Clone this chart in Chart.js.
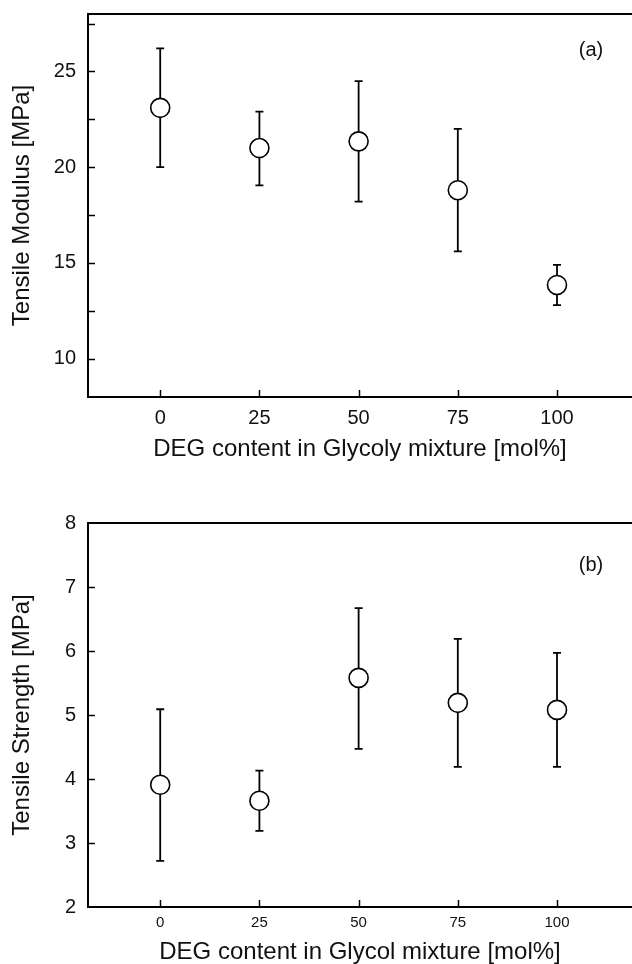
<!DOCTYPE html>
<html lang="en">
<head>
<meta charset="UTF-8">
<title>Tensile Modulus and Strength vs DEG content</title>
<script src="https://cdn.jsdelivr.net/npm/chart.js"></script>
<style>
  body { margin: 0; background: #fff; }
  #wrap { position: relative; width: 632px; height: 964px; overflow: hidden; }
  canvas { position: absolute; left: 0; }
  #modulusChart { top: 0; }
  #strengthChart { top: 500px; }
</style>
</head>
<body>
<div id="wrap">
  <canvas id="modulusChart" width="632" height="470"></canvas>
  <canvas id="strengthChart" width="632" height="480"></canvas>
</div>
<script>
// data
const degContent = [0, 25, 50, 75, 100];

const modulusMean = [23.1, 21.0, 21.35, 18.8, 13.85];
const modulusHigh = [26.2, 22.9, 24.5, 22.0, 14.9];
const modulusLow  = [20.0, 19.05, 18.2, 15.6, 12.8];

const strengthMean = [3.91, 3.66, 5.58, 5.19, 5.08];
const strengthHigh = [5.09, 4.13, 6.67, 6.19, 5.97];
const strengthLow  = [2.72, 3.19, 4.47, 4.19, 4.19];

const xTicks = [0, 25, 50, 75, 100];
const modulusTicks = [10, 15, 20, 25];
const modulusMinorTicks = [10, 12.5, 15, 17.5, 20, 22.5, 25, 27.5];
const strengthTicks = [2, 3, 4, 5, 6, 7, 8];

const FONT = "'Liberation Sans', Arial, Helvetica, sans-serif";

// error bars behind the circles, inward tick marks and the top frame line
const framePlugin = {
  id: 'frame',
  beforeDatasetsDraw(chart, args, opts) {
    const { ctx } = chart;
    const x = chart.scales.x, y = chart.scales.y;
    ctx.save();
    ctx.strokeStyle = '#000';
    ctx.lineWidth = 1.8;
    opts.low.forEach((lo, i) => {
      const px = x.getPixelForValue(degContent[i]);
      const pTop = y.getPixelForValue(opts.high[i]);
      const pBot = y.getPixelForValue(lo);
      ctx.beginPath();
      ctx.moveTo(px, pTop); ctx.lineTo(px, pBot);
      ctx.moveTo(px - 4, pTop); ctx.lineTo(px + 4, pTop);
      ctx.moveTo(px - 4, pBot); ctx.lineTo(px + 4, pBot);
      ctx.stroke();
    });
    ctx.restore();
  },
  afterDraw(chart, args, opts) {
    const { ctx, chartArea } = chart;
    const x = chart.scales.x, y = chart.scales.y;
    ctx.save();
    ctx.strokeStyle = '#000';
    // top frame (figure is cropped on the right, so no right edge)
    ctx.lineWidth = 2;
    ctx.beginPath();
    ctx.moveTo(chartArea.left - 1, chartArea.top);
    ctx.lineTo(chart.width, chartArea.top);
    ctx.stroke();
    // ticks
    ctx.lineWidth = 1.5;
    ctx.beginPath();
    xTicks.forEach(v => {
      const px = Math.round(x.getPixelForValue(v)) + 0.5;
      ctx.moveTo(px, chartArea.bottom);
      ctx.lineTo(px, chartArea.bottom - 7);
    });
    opts.yTicks.forEach(v => {
      const py = Math.round(y.getPixelForValue(v)) + 0.5;
      ctx.moveTo(chartArea.left, py);
      ctx.lineTo(chartArea.left + 7, py);
    });
    ctx.stroke();
    ctx.restore();
  }
};

function makeChart(id, cfg) {
  const points = degContent.map((d, i) => ({ x: d, y: cfg.mean[i] }));
  return new Chart(document.getElementById(id), {
    type: 'scatter',
    data: {
      datasets: [{
        data: points,
        pointRadius: 9.5,
        pointHoverRadius: 9.5,
        pointBackgroundColor: '#fff',
        pointBorderColor: '#000',
        pointBorderWidth: 1.6,
        clip: false
      }]
    },
    options: {
      responsive: false,
      animation: false,
      layout: { autoPadding: false, padding: { top: cfg.padTop, left: 0, right: 0, bottom: 0 } },
      scales: {
        x: {
          type: 'linear',
          min: -18.2,
          max: 118.9,
          afterBuildTicks: s => { s.ticks = xTicks.map(v => ({ value: v })); },
          afterFit: s => { s.height = cfg.xHeight; s.paddingLeft = 0; s.paddingRight = 0; },
          grid: { display: false, drawTicks: false },
          border: { display: true, color: '#000', width: 2 },
          ticks: {
            color: '#111',
            padding: cfg.xTickPad,
            font: { family: FONT, size: cfg.xTickSize },
            maxRotation: 0
          },
          title: {
            display: true,
            text: cfg.xTitle,
            color: '#111',
            font: { family: FONT, size: 24 },
            padding: { top: 0, bottom: cfg.xTitlePad }
          }
        },
        y: {
          type: 'linear',
          min: cfg.yMin,
          max: cfg.yMax,
          afterBuildTicks: s => { s.ticks = cfg.yLabels.map(v => ({ value: v })); },
          afterFit: s => { s.width = 88; s.paddingTop = 0; s.paddingBottom = 0; },
          grid: { display: false, drawTicks: false },
          border: { display: true, color: '#000', width: 2 },
          ticks: {
            color: '#111',
            padding: 12,
            font: { family: FONT, size: 20 }
          },
          title: {
            display: true,
            text: cfg.yTitle,
            color: '#111',
            font: { family: FONT, size: 24 },
            padding: { top: 8, bottom: 0 }
          }
        }
      },
      plugins: {
        legend: { display: false },
        tooltip: { enabled: false },
        frame: { low: cfg.low, high: cfg.high, yTicks: cfg.yMarks }
      }
    },
    plugins: [framePlugin, {
      id: 'panelLabel',
      afterDraw(chart) {
        const { ctx, chartArea } = chart;
        ctx.save();
        ctx.fillStyle = '#111';
        ctx.font = '20px ' + FONT;
        ctx.textAlign = 'center';
        ctx.textBaseline = 'middle';
        ctx.fillText(cfg.panel, 591, chartArea.top + cfg.panelDy);
        ctx.restore();
      }
    }]
  });
}

makeChart('modulusChart', {
  mean: modulusMean, high: modulusHigh, low: modulusLow,
  yMin: 8, yMax: 28, yLabels: modulusTicks, yMarks: modulusMinorTicks,
  padTop: 14, xHeight: 73, xTickPad: 9, xTickSize: 20, xTitlePad: 6,
  xTitle: 'DEG content in Glycoly mixture [mol%]',
  yTitle: 'Tensile Modulus [MPa]',
  panel: '(a)', panelDy: 36
});

makeChart('strengthChart', {
  mean: strengthMean, high: strengthHigh, low: strengthLow,
  yMin: 2, yMax: 8, yLabels: strengthTicks, yMarks: [3, 4, 5, 6, 7],
  padTop: 23, xHeight: 73, xTickPad: 7, xTickSize: 15, xTitlePad: 13,
  xTitle: 'DEG content in Glycol mixture [mol%]',
  yTitle: 'Tensile Strength [MPa]',
  panel: '(b)', panelDy: 42
});
</script>
</body>
</html>
